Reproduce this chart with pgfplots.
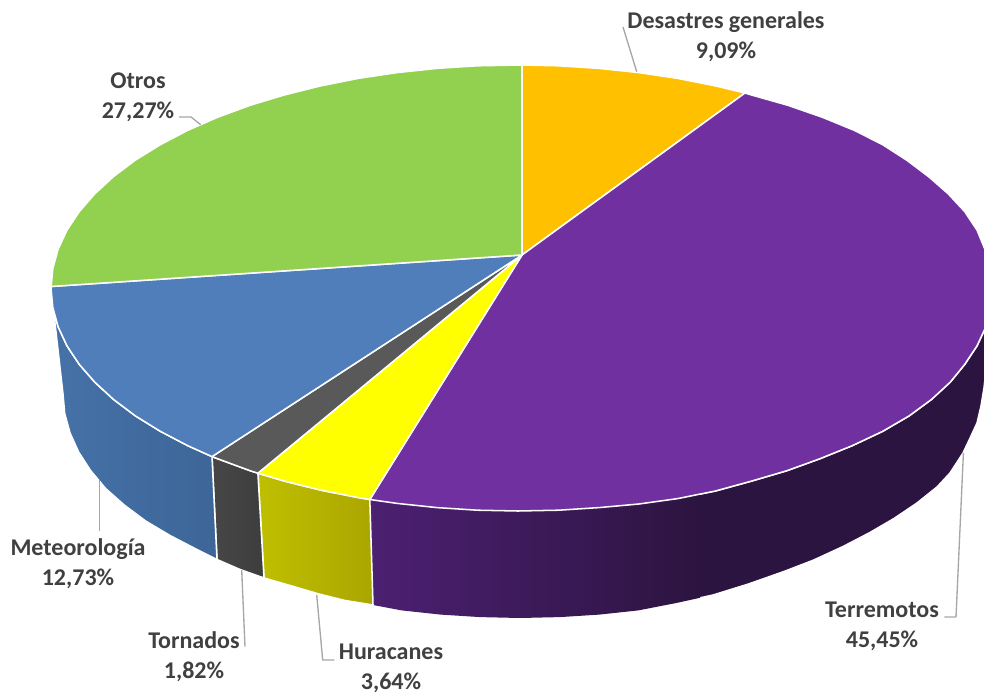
\documentclass[border=0pt]{standalone}
\usepackage{pgfplots}
\pgfplotsset{compat=1.18}
\usepackage{fontspec}
\setmainfont{Carlito}
\definecolor{cOrange}{HTML}{FFC000}
\definecolor{cPurple}{HTML}{7030A0}
\definecolor{cYellow}{HTML}{FFFF00}
\definecolor{cGrey}{HTML}{595959}
\definecolor{cBlue}{HTML}{4F7EBA}
\definecolor{cGreen}{HTML}{92D050}
\definecolor{wPurpleL}{HTML}{4C2072}
\definecolor{wPurpleD}{HTML}{2C1440}
\definecolor{wYellowL}{HTML}{BFBF00}
\definecolor{wYellowD}{HTML}{ABA600}
\definecolor{wGreyL}{HTML}{474747}
\definecolor{wGreyD}{HTML}{3D3D3D}
\definecolor{wBlueL}{HTML}{4572A8}
\definecolor{wBlueD}{HTML}{3D6598}
\definecolor{leader}{HTML}{A6A6A6}
\definecolor{lbl}{HTML}{404040}
\tikzset{
  rim/.style={draw=white, line width=1.15pt, line join=round},
  lead/.style={draw=leader, line width=1pt, line join=round},
  lab/.style={font=\fontsize{18}{22.5}\selectfont\bfseries, text=lbl, align=center, anchor=center, inner sep=0pt},
}
\begin{document}
\begin{tikzpicture}
\useasboundingbox (0,0) rectangle (738pt,521.25pt);
\begin{axis}[
  scale only axis, width=738pt, height=521.25pt,
  xmin=0, xmax=984, ymin=0, ymax=695, y dir=reverse,
  hide axis,
]
% Side wall, Terremotos
\addplot[rim, fill=wPurpleD] coordinates {
 (369.8,499.5) (397.1,503.4) (436.9,507.6) (477.3,510.2) (518,511) (558.7,510.2) (599.1,507.6)
 (638.9,504) (677.7,498.6) (715.4,491) (751.5,481.1) (786.9,470.7) (819.7,458.8) (852.2,445.7)
 (882.7,431.3) (909.1,415.9) (931.4,399.5) (950.2,382.2) (964.8,364.3) (977.1,345.7) (985.9,326.7)
 (991.2,307.4) (993,288)
 (990,340) (986,370) (984,388) (981,406) (977,423) (970.1,438) (963,453) (950,473) (937,487)
 (917,503) (894,518.5) (870,532.5) (843.1,546.5) (813.8,560) (784,571.5) (748.5,584) (713.1,595)
 (676.3,603) (638.3,610.4) (599.3,614.6) (559.9,617.1) (520,618) (480.1,617.1) (440.7,614.6)
 (401.7,610.4) (373,605)} --cycle;
\addplot[draw=none, left color=wPurpleL, right color=wPurpleD] coordinates {
 (369.8,499.5) (397.1,503.4) (436.9,507.6) (477.3,510.2) (518,511) (558.7,510.2) (599.1,507.6)
 (638.9,504) (677.7,498.6) (700,494)
 (700,597.8) (676.3,603) (638.3,610.4) (599.3,614.6) (559.9,617.1) (520,618) (480.1,617.1) (440.7,614.6)
 (401.7,610.4) (373,605)} --cycle;
% Side wall, Huracanes
\addplot[rim, left color=wYellowL, right color=wYellowD] coordinates {
 (257.9,473.2) (284.5,481.1) (320.6,490.1) (358.3,497.6) (369.8,499.5)
 (373,605) (345,600.5) (319,594) (290,585.5) (264,578)} --cycle;
% Side wall, Tornados
\addplot[rim, left color=wGreyL, right color=wGreyD] coordinates {
 (212,456.6) (217.8,458.8) (250.1,470.7) (257.9,473.2)
 (264,578) (240,569.5) (217,559.5)} --cycle;
% Side wall, Meteorologia
\addplot[rim, left color=wBlueL, right color=wBlueD] coordinates {
 (51,288) (52.8,307.4) (58.1,326.7) (66.9,345.7) (79.2,364.3) (94.8,382.2) (113.6,399.5)
 (135.4,415.9) (160.3,431.3) (187.8,445.7) (212,456.6)
 (217,559.5) (196.9,549.5) (170,535.5) (145.6,521) (124.2,505) (105.8,488.7) (90.6,470.6)
 (78.6,452) (70,432.9) (64.7,413.5) (63,394)} --cycle;
% Top faces
\addplot[rim, fill=cOrange] coordinates {
 (522,255) (522,65) (558.7,65.8) (599.1,68.4) (638.9,72.6) (677.7,78.4) (715.4,85.9) (745,93)} --cycle;
\addplot[rim, fill=cPurple] coordinates {
 (522,255) (745,93) (751.5,95) (787.9,105.3) (822.2,117.2) (854.2,130.3) (882.7,144.7) (906.6,160.1)
 (928.4,176.5) (948.2,193.8) (964.8,211.7) (977.1,230.3) (984.9,249.3) (990.2,268.6) (993,288)
 (991.2,307.4) (985.9,326.7) (977.1,345.7) (964.8,364.3) (950.2,382.2) (931.4,399.5) (909.1,415.9)
 (882.7,431.3) (852.2,445.7) (819.7,458.8) (786.9,470.7) (751.5,481.1) (715.4,491) (677.7,498.6)
 (638.9,504) (599.1,507.6) (558.7,510.2) (518,511) (477.3,510.2) (436.9,507.6) (397.1,503.4)
 (369.8,499.5)} --cycle;
\addplot[rim, fill=cYellow] coordinates {
 (522,255) (369.8,499.5) (358.3,497.6) (320.6,490.1) (284.5,481.1) (257.9,473.2)} --cycle;
\addplot[rim, fill=cGrey] coordinates {
 (522,255) (257.9,473.2) (250.1,470.7) (217.8,458.8) (212,456.6)} --cycle;
\addplot[rim, fill=cBlue] coordinates {
 (522,255) (212,456.6) (187.8,445.7) (160.3,431.3) (135.4,415.9) (113.6,399.5) (94.8,382.2)
 (79.2,364.3) (66.9,345.7) (58.1,326.7) (52.8,307.4) (51,288) (51.2,286.5)} --cycle;
\addplot[rim, fill=cGreen] coordinates {
 (522,255) (51.2,286.5) (52.8,268.6) (58.1,249.3) (66.9,230.3) (79.2,211.7) (94.8,193.8) (113.6,176.5)
 (135.4,160.1) (160.3,144.7) (187.8,130.3) (217.8,117.2) (250.1,105.3) (284.5,94.9) (320.6,85.9)
 (358.3,78.4) (397.1,72.6) (436.9,68.4) (477.3,65.8) (522,65)} --cycle;
% Leader lines
\addplot[lead] coordinates {(179,117) (191,117) (200.7,124.7)};
\addplot[lead] coordinates {(623,27) (636.7,71.7)};
\addplot[lead] coordinates {(99.3,480) (99.3,530.7)};
\addplot[lead] coordinates {(241.7,570) (245,646.7)};
\addplot[lead] coordinates {(316.7,595) (322.7,660) (334.3,660)};
\addplot[lead] coordinates {(963.4,453) (956,617) (944.4,617)};
% Data labels
\node[lab] at (axis cs:726,36.7) {Desastres generales\\9,09\%};
\node[lab] at (axis cs:138,97.7) {Otros\\27,27\%};
\node[lab] at (axis cs:78,563.2) {Meteorología\\12,73\%};
\node[lab] at (axis cs:194,656.2) {Tornados\\1,82\%};
\node[lab] at (axis cs:391,668.7) {Huracanes\\3,64\%};
\node[lab] at (axis cs:882,626.7) {Terremotos\\45,45\%};
\end{axis}
\end{tikzpicture}
\end{document}
